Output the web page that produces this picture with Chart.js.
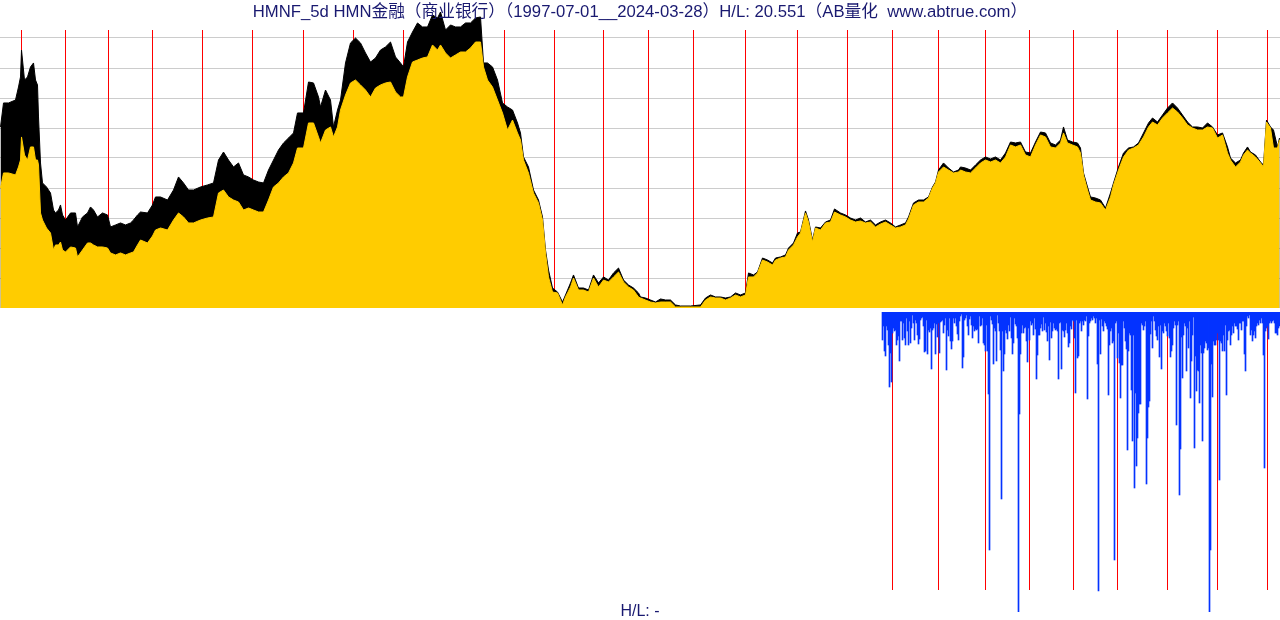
<!DOCTYPE html>
<html>
<head>
<meta charset="utf-8">
<script src="https://cdn.jsdelivr.net/npm/chart.js@4/dist/chart.umd.min.js"></script>
<style>
  html, body { margin:0; padding:0; background:#ffffff; width:1280px; height:620px; overflow:hidden; }
  #priceBox { position:absolute; left:0; top:0; width:1280px; height:310px; }
  #volBox { position:absolute; left:0; top:310px; width:1280px; height:310px; }
  .txt { position:absolute; left:0; width:1280px; text-align:center; white-space:pre;
         font-family:"Liberation Sans","Noto Sans CJK SC",sans-serif; font-size:16.7px; color:#191970; z-index:5; }
  #title { top:-2px; }
  #foot { top:602px; font-size:16px; }
</style>
</head>
<body>
<div id="priceBox"><canvas id="price" width="1280" height="310"></canvas></div>
<div id="volBox"><canvas id="vol" width="1280" height="310"></canvas></div>
<div id="title" class="txt">HMNF_5d HMN金融（商业银行）（1997-07-01__2024-03-28）H/L: 20.551（AB量化  www.abtrue.com）</div>
<div id="foot" class="txt">H/L: -</div>
<script>
// ---- data: 5-day bars, x = bar index since 1997-07-01 ----
const PRICE_BARS = [
  0,3,8,15,18,20,21,24,27,30, 33,35,37,38,40,42,46,50,53,55, 58,60,62,65,70,75,77,82,87,90,
  93,97,102,107,110,115,120,125,130,133, 137,140,147,152,155,160,167,173,178,183,
  188,193,200,207,213,218,223,228,233,238, 243,248,253,258,263,268,273,278,283,288,
  293,297,303,308,313,318,
  320,325,330,333,337,340,345,350,355,360, 365,370,375,380,385,390,395,400,403,407,
  412,417,422,427,432,437,440,445,450,455, 460,465,470,475,480,483,487,492,497,502,
  507,512,517,520,523,528,533,538,542,545, 548,552,557,562,565,570,573,578,583,588,
  593,598,603,608,613,618,623,628,633,638,
  640,645,650,655,660,665,670,675,680,690, 700,705,710,715,720,725,730,735,740,745,
  748,753,757,762,767,772,775,780,785,788, 793,797,800,805,808,812,815,820,825,830,
  834,840,845,850,855,860,865,870,875,880, 885,890,895,900,905,908,913,918,923,928,
  932,935,938,943,948,953,958,
  960,965,970,975,980,985,990,995,1000,1005, 1010,1015,1020,1025,1030,1035,1040,1045,1050,1055,
  1060,1063,1067,1072,1077,1080,1083,1087,1090,1095, 1100,1105,1110,1113,1118,1123,1128,1133,1138,1143,
  1148,1152,1157,1162,1167,1172,1177,1182,1187,1192, 1197,1202,1207,1212,1217,1222,1227,1230,1235,1240,
  1243,1247,1250,1255,1260,1263,1266,1270,1273,1277, 1279
];
const PRICE_HIGHS = [
  24.50,27.50,27.50,27.87,29.50,30.75,34.12,30.37,30.75,32.00, 32.50,30.37,29.75,25.75,20.00,17.50,17.00,16.25,14.12,13.75,
  14.12,14.75,13.50,12.87,13.75,13.75,12.00,13.25,13.75,14.50, 14.12,13.25,13.75,13.50,12.00,12.25,12.50,12.25,12.50,12.87,
  13.50,13.87,13.75,14.75,15.75,15.75,15.37,16.62,18.25,17.50, 16.62,16.62,17.00,17.25,17.50,20.37,21.37,20.37,19.50,20.00,
  18.50,18.25,17.87,17.62,17.50,19.12,20.37,21.62,22.50,23.12, 23.75,26.25,26.25,30.12,30.00,28.25,
  27.00,29.12,27.87,24.50,26.62,27.87,32.50,35.00,35.62,35.00, 33.75,32.62,33.12,34.12,34.50,35.12,33.25,32.50,32.00,35.12,
  36.37,37.50,37.00,37.00,38.50,38.12,38.87,36.62,37.25,37.00, 37.00,37.50,37.50,38.12,38.25,32.50,32.50,32.00,30.37,27.50,
  27.00,26.62,25.00,23.75,20.75,19.50,16.62,15.37,13.25,9.12, 6.62,4.37,3.87,2.62,3.50,5.00,6.00,4.37,4.37,4.12,
  6.00,5.00,5.75,5.37,6.25,6.87,5.37,4.75,4.37,3.75,
  3.25,3.12,2.87,2.62,3.00,2.87,2.87,2.25,2.12,2.12, 2.25,3.12,3.50,3.25,3.25,3.12,3.25,3.75,3.50,3.75,
  6.25,6.00,6.37,8.12,7.87,7.50,8.12,8.25,8.50,9.37, 10.00,11.25,11.37,14.00,12.87,10.37,12.00,11.87,12.62,12.87,
  14.25,13.75,13.50,13.12,12.87,13.12,12.62,12.87,12.25,12.62, 12.87,12.50,12.00,12.25,12.50,13.25,15.00,15.37,15.37,15.75,
  17.00,17.62,19.12,20.00,19.37,18.87,19.12,
  19.50,19.37,19.12,19.75,20.37,20.75,20.50,20.75,20.37,21.25, 22.62,22.50,22.62,21.37,21.25,22.62,23.87,23.75,22.50,22.25,
  22.87,24.50,22.87,22.62,22.50,21.87,18.75,17.00,15.75,15.62, 15.37,14.37,16.25,17.50,19.50,21.25,21.87,22.00,22.50,23.75,
  25.00,25.62,25.12,26.00,26.87,27.50,26.87,26.00,25.12,24.50, 24.50,24.37,25.00,24.50,23.50,23.75,22.00,20.62,20.00,20.37,
  21.25,22.00,21.37,21.00,20.12,19.75,25.37,24.50,24.12,22.00, 23.12
];
const PRICE_CLOSES = [
  16.87,18.75,18.75,18.50,19.50,20.37,23.25,21.00,20.37,22.00, 22.00,20.37,20.37,19.75,13.75,12.87,11.87,11.25,9.12,9.75,
  9.75,10.12,9.12,8.87,9.50,9.37,8.25,9.12,10.00,10.00, 9.75,9.50,9.50,9.37,8.75,8.50,8.75,8.50,8.75,8.87,
  9.75,10.37,10.00,10.87,11.62,11.87,11.62,12.87,13.75,13.25, 12.50,12.50,12.87,13.12,13.25,16.25,16.62,15.75,15.37,15.12,
  14.12,14.37,14.12,13.87,13.87,15.37,17.00,17.50,18.25,18.75, 20.00,21.87,21.87,25.00,25.00,23.25,
  22.50,24.12,24.50,23.25,24.50,26.62,28.50,30.00,30.37,29.75, 29.12,28.25,29.37,29.75,30.00,30.12,28.87,28.25,28.25,30.75,
  32.62,32.87,33.12,33.25,34.75,34.12,34.75,33.75,33.12,33.50, 33.87,33.87,34.37,35.12,35.12,32.00,30.37,29.50,27.87,26.25,
  24.12,25.37,23.75,22.87,20.37,18.75,16.25,15.00,12.87,8.75, 5.75,3.87,3.75,2.25,3.25,4.50,5.62,4.12,4.12,3.87,
  5.62,4.50,5.37,5.12,5.75,6.37,5.12,4.50,4.12,3.25,
  3.12,2.87,2.62,2.50,2.62,2.62,2.62,2.00,2.00,2.00, 2.00,2.87,3.25,3.12,3.12,2.87,3.12,3.50,3.25,3.50,
  5.75,5.75,6.25,7.87,7.62,7.25,7.87,8.12,8.25,9.12, 9.75,10.75,11.25,13.75,12.62,10.12,11.87,11.62,12.50,12.62,
  13.87,13.50,13.25,12.87,12.62,12.75,12.50,12.62,12.00,12.37, 12.62,12.25,11.87,12.00,12.25,13.00,14.75,15.12,15.12,15.62,
  16.87,17.50,18.87,19.50,19.12,18.75,18.87,
  19.12,18.87,18.75,19.37,20.00,20.37,20.12,20.37,20.00,20.75, 22.25,22.00,22.25,21.00,20.75,22.25,23.50,23.25,22.00,21.87,
  22.50,23.75,22.50,22.25,22.00,21.25,18.50,16.62,15.37,15.12, 15.00,14.12,15.75,17.25,19.12,20.75,21.62,21.87,22.25,23.25,
  24.50,25.12,24.75,25.62,26.25,26.87,26.37,25.62,24.75,24.37, 24.12,24.12,24.50,24.37,23.12,23.50,21.25,20.37,19.50,20.12,
  21.00,21.62,21.25,20.75,20.00,19.50,25.12,24.37,21.87,21.87, 22.87
];
const VOL_START_BAR = 882;
const VOLUMES = [
  28,14,39,44,14,18,33,75,41,70,21,16,19,18,33,28,24,49,9,9,
  28,11,26,33,6,19,33,9,31,16,3,11,28,8,11,23,32,27,8,6,
  5,14,40,39,8,42,18,20,16,57,18,16,11,42,12,25,11,41,10,9,
  8,21,13,6,58,18,24,6,29,37,29,6,11,6,14,22,28,9,4,2,
  56,45,8,6,3,14,23,7,4,13,26,14,19,17,18,17,31,4,14,13,
  6,31,33,39,13,39,82,238,4,8,12,52,16,19,49,3,11,19,38,187,
  19,59,42,18,21,27,13,19,5,26,42,31,6,12,14,26,300,102,42,21,
  13,21,16,15,29,50,16,28,9,13,11,23,6,17,67,43,23,23,16,12,
  19,5,18,11,20,29,14,48,10,26,19,11,16,18,17,19,67,11,10,57,
  18,19,25,18,11,21,35,31,14,17,8,9,26,81,8,46,44,11,9,19,
  9,13,8,9,4,87,24,11,9,6,8,4,6,11,6,52,279,8,42,7,
  14,19,9,11,14,17,83,33,19,16,31,29,248,11,9,46,21,51,86,53,
  53,9,16,29,37,138,39,21,23,78,129,23,176,81,154,126,101,92,92,11,
  13,18,14,9,172,126,95,89,22,9,36,4,9,18,24,28,14,45,13,57,
  19,21,11,14,19,24,11,26,45,39,33,16,9,13,113,13,9,183,137,25,
  66,23,11,14,59,16,36,9,86,49,23,5,136,44,79,58,59,91,33,41,
  129,41,36,29,31,38,36,300,238,52,85,29,33,33,28,21,28,168,29,31,
  39,23,39,13,83,28,19,18,33,23,14,21,11,14,14,17,28,11,11,18,
  9,9,42,59,14,4,6,3,23,18,29,23,19,26,14,11,13,8,11,6,
  11,43,156,19,16,14,27,11,9,11,9,8,11,21,21,23,16,14
];
const YEAR_LABELS = ['1998','1999','2000','2001','2002','2003','2004','2005','2006','2007','2008','2009','2010',
  '2011','2012','2013','2014','2015','2016','2017','2018','2019','2020','2021','2022','2023','2024'];
const YEAR_START_BARS = [21,65,108,152,202,252,303,353,403,453,504,554,603,648,693,745,797,847,892,938,985,1029,1073,1117,1167,1217,1267];
const PRICE_MIN = 1.87;
const PRICE_MAX = 39.12;
const GRID_PRICES = [5.62, 9.37, 13.12, 16.87, 20.62, 24.37, 28.12, 31.87, 35.62];
const VOL_MAX = 300;
const BAR_MIN = -0.5, BAR_MAX = 1279.5;

// ---- year separator lines ----
const yearLines = {
  id: 'yearLines',
  beforeDatasetsDraw(chart, args, opts) {
    const { ctx, chartArea, scales } = chart;
    const x = scales.x;
    const y0 = chartArea.top + (opts.topOffset || 0);
    const y1 = opts.length != null ? chartArea.top + opts.length : chartArea.bottom;
    ctx.save();
    ctx.strokeStyle = '#ff0000';
    ctx.lineWidth = 1;
    YEAR_START_BARS.forEach((b) => {
      if (b < (opts.fromBar || 0)) return;
      const px = Math.round(x.getPixelForValue(b) - 0.5) + 0.5;
      ctx.beginPath();
      ctx.moveTo(px, y0);
      ctx.lineTo(px, y1);
      ctx.stroke();
    });
    ctx.restore();
  }
};

const closePts = PRICE_BARS.map((b, i) => ({ x: b, y: PRICE_CLOSES[i] }));
const highPts = PRICE_BARS.map((b, i) => ({ x: b, y: PRICE_HIGHS[i] }));

new Chart(document.getElementById('price'), {
  type: 'line',
  data: {
    datasets: [
      { label: 'Close', data: closePts, borderColor: '#FFCC00', backgroundColor: '#FFCC00',
        fill: 'start', borderWidth: 1, pointRadius: 0, tension: 0, order: 0 },
      { label: 'High', data: highPts, borderColor: '#000000', backgroundColor: '#000000',
        fill: 'start', borderWidth: 1, pointRadius: 0, tension: 0, order: 1 }
    ]
  },
  options: {
    responsive: false, animation: false, events: [],
    layout: { padding: { top: 10, bottom: 2, left: 0, right: 0 } },
    plugins: {
      legend: { display: false }, tooltip: { enabled: false }, title: { display: false },
      yearLines: { topOffset: 20, fromBar: 0 }
    },
    scales: {
      x: { type: 'linear', min: BAR_MIN, max: BAR_MAX, display: false },
      y: {
        min: PRICE_MIN, max: PRICE_MAX,
        border: { display: false },
        ticks: { display: false },
        grid: { color: '#cccccc', drawTicks: false, lineWidth: 1 },
        afterBuildTicks: (s) => { s.ticks = GRID_PRICES.map(v => ({ value: v })); }
      }
    }
  },
  plugins: [yearLines]
});

new Chart(document.getElementById('vol'), {
  type: 'bar',
  data: {
    datasets: [
      { label: 'Volume', data: VOLUMES.map((v, i) => ({ x: VOL_START_BAR + i, y: v })),
        backgroundColor: '#0433FF', borderWidth: 0, barPercentage: 1, categoryPercentage: 1 }
    ]
  },
  options: {
    responsive: false, animation: false, events: [],
    layout: { padding: { top: 2, bottom: 8, left: 0, right: 0 } },
    plugins: {
      legend: { display: false }, tooltip: { enabled: false },
      yearLines: { topOffset: 0, length: 278, fromBar: VOL_START_BAR }
    },
    scales: {
      x: { type: 'linear', min: BAR_MIN, max: BAR_MAX, display: false, offset: false, grid: { offset: false } },
      y: { min: 0, max: VOL_MAX, reverse: true, display: false }
    }
  },
  plugins: [yearLines]
});
</script>
</body>
</html>
